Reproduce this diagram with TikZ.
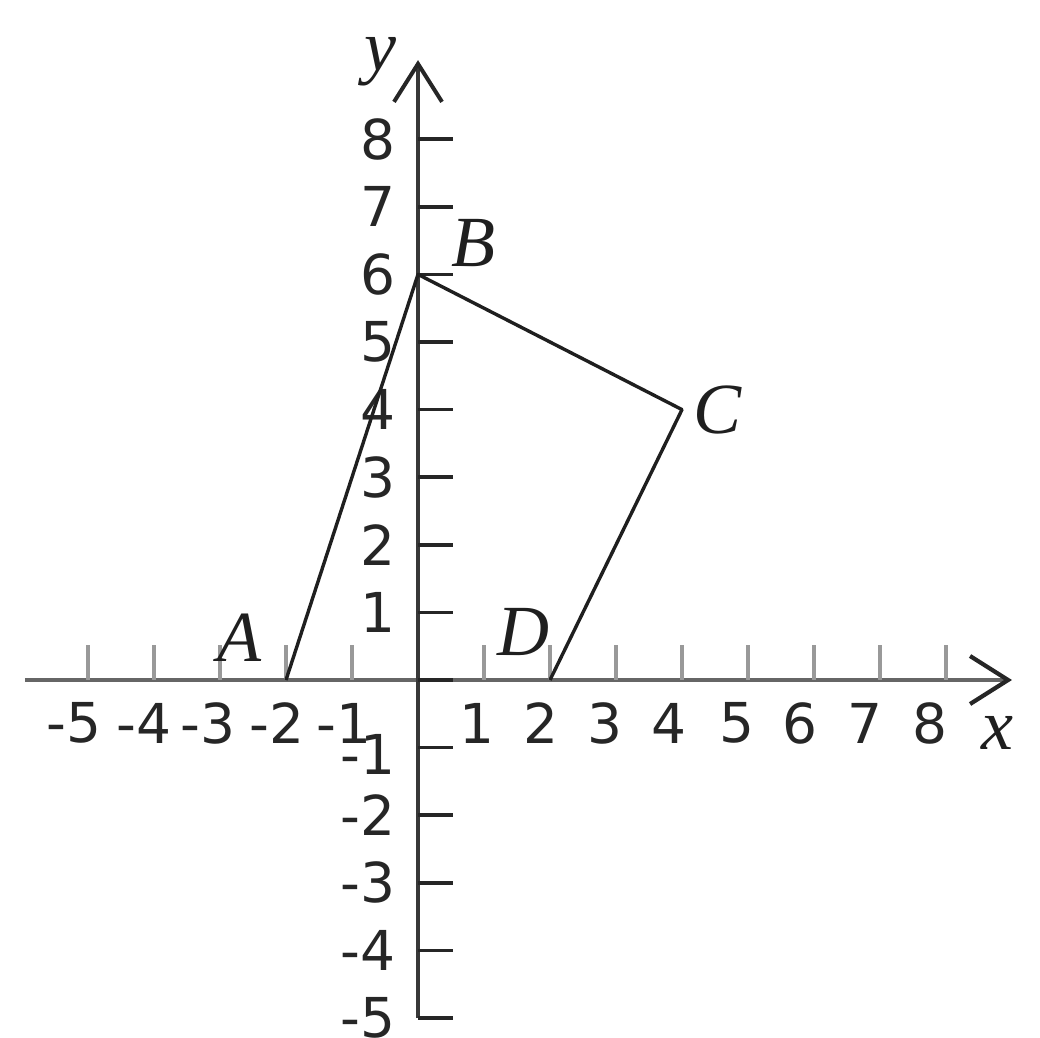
\documentclass[tikz,border=0pt]{standalone}
\usepackage{fontspec}
\newfontfamily\dvs{DejaVu Sans}
\newfontfamily\tnr{Liberation Serif}
\usetikzlibrary{arrows.meta}
\begin{document}
\begin{tikzpicture}[x=66pt,y=67.6pt,
  axisx/.style={line width=4.2pt,draw=black!60,-{Straight Barb[length=38pt,width=48pt,color=black!85]}},
  axisy/.style={line width=4pt,draw=black!78,-{Straight Barb[length=38pt,width=48pt,color=black!85]}},
  xtick/.style={line width=3.2pt,draw=black!40},
  ytick/.style={line width=3.5pt,draw=black!85},
  poly/.style={line width=3.4pt,draw=black!88,line join=round},
  numlab/.style={inner sep=0pt,text=black!85,font=\dvs\fontsize{55}{60}\selectfont},
  ylab/.style={numlab,anchor=east},
  ptlab/.style={inner sep=0pt,text=black!88,font=\tnr\itshape\fontsize{72}{80}\selectfont}]
\useasboundingbox (-418pt,-357pt) rectangle (622pt,680pt);
% axes
\coordinate (xs) at (-5.955,0);
\coordinate (xe) at (9.0,0);
\coordinate (ys) at (0,-5);
\coordinate (ye) at (0,9.17);
\draw[axisx] (xs) -- (xe);
\draw[axisy] (ys) -- (ye);
% ticks
\foreach \i in {-5,...,-1,1,2,...,8} \draw[xtick] (\i,0) -- ++(0,0.518);
\foreach \j in {-5,...,8} \draw[ytick] (0,\j) -- ++(0.53,0);
% x labels
\foreach \v/\p in {5/-334,4/-264,3/-200,2/-131,1/-64}
  \node[numlab] (xlm\v) at (\p pt,-43pt) {\llap{-}\v};
\foreach \v/\p in {1/59,2/123,3/187,4/251,5/319,6/382,7/447,8/512}
  \node[numlab] (xl\v) at (\p pt,-43pt) {\v};
% y labels
\foreach \v in {1,...,8}
  \node[ylab] (yl\v) at ([xshift=-22pt]0,\v) {\v};
\node[ylab] (ylm1) at ([xshift=-22pt,yshift=-7pt]0,-1) {-1};
\foreach \v in {2,...,5}
  \node[ylab] (ylm\v) at ([xshift=-22pt]0,-\v) {-\v};
% quadrilateral
\coordinate (A) at (-2,0);
\coordinate (B) at (0,6);
\coordinate (C) at (4,4);
\coordinate (D) at (2,0);
\draw[poly] (A) -- (B) -- (C) -- (D);
% point labels
\node[ptlab] (lA) at (-179pt,42pt) {A};
\node[ptlab] (lB) at (55pt,437pt) {B};
\node[ptlab] (lC) at (300pt,270pt) {C};
\node[ptlab] (lD) at (105pt,48pt) {D};
\node[ptlab] (lx) at (579pt,-53pt) {x};
\node[ptlab] (ly) at (-38pt,618pt) {y};
\end{tikzpicture}
\end{document}
